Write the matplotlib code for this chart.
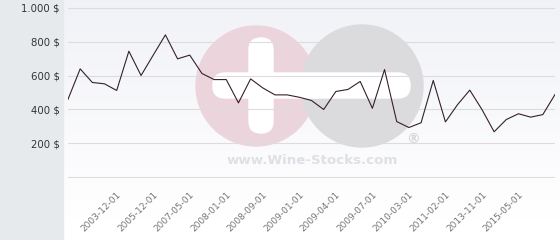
import matplotlib
matplotlib.use("Agg")
import matplotlib.pyplot as plt
from matplotlib.patches import Circle, FancyBboxPatch, Rectangle
import numpy as np

# price history, one point per listed date (categorical x axis)
prices = [460, 639, 559, 551, 512, 743, 600, 720, 839, 698,
          720, 612, 576, 576, 439, 580, 527, 486, 486, 472,
          453, 400, 506, 518, 565, 407, 635, 329, 294, 322,
          571, 327, 429, 514, 400, 269, 341, 375, 355, 370, 488]
tick_idx = [4, 7, 10, 13, 16, 19, 22, 25, 28, 31, 34, 37]
tick_labels = ["2003-12-01", "2005-12-01", "2007-05-01", "2008-01-01",
               "2008-09-01", "2009-01-01", "2009-04-01", "2009-07-01",
               "2010-03-01", "2011-02-01", "2013-11-01", "2015-05-01"]
y_ticks = [0, 200, 400, 600, 800, 1000]
y_labels = ["", "200 $", "400 $", "600 $", "800 $", "1.000 $"]

W, H = 560, 240
fig = plt.figure(figsize=(W / 100, H / 100), dpi=100)

# background layer in pixel coordinates: grey side panel, gradient, watermark
bg = fig.add_axes([0, 0, 1, 1], zorder=0)
bg.set_xlim(0, W)
bg.set_ylim(H, 0)
bg.axis("off")
grad = np.linspace(0, 1, 256)[:, None]
top = np.array([0.945, 0.949, 0.969])
rgb = top + (1 - top) * np.clip(grad * 1.1, 0, 1)[..., None]
bg.imshow(rgb.reshape(256, 1, 3), extent=[63, W, H, 0], aspect="auto", zorder=0)
bg.add_patch(Rectangle((0, 0), 63, H, color="#e7eaed", zorder=1))

bg.add_patch(Circle((256, 86), 60, color="#ecd4dc", zorder=2))
bg.add_patch(Circle((362, 86), 61, color="#dbdbdd", zorder=3))
bg.add_patch(FancyBboxPatch((249, 38), 24, 95, boxstyle="round,pad=0,rounding_size=12",
                            color="white", zorder=4))
bg.add_patch(FancyBboxPatch((213, 73), 197, 25, boxstyle="round,pad=0,rounding_size=12",
                            color="white", zorder=4))
bg.text(312, 161, "www.Wine-Stocks.com", ha="center", va="center", fontsize=9.6,
        fontweight="bold", color="#dfe0e3", zorder=5)
bg.text(413, 139, "®", ha="center", va="center", fontsize=10,
        fontweight="bold", color="#d4d4d6", zorder=5)

# main chart
ax = fig.add_axes([68 / W, (H - 178) / H, (555 - 68) / W, (178 - 7) / H], zorder=1)
ax.patch.set_alpha(0)
ax.plot(range(len(prices)), prices, color="#35202d", lw=0.8, zorder=3)
ax.set_xlim(0, len(prices) - 1)
ax.set_ylim(-3, 1003)
ax.set_yticks(y_ticks)
ax.set_yticklabels(y_labels)
ax.set_xticks(tick_idx)
ax.set_xticklabels(tick_labels, rotation=45, ha="right", va="top",
                   rotation_mode="anchor")
ax.tick_params(axis="y", length=0, pad=6, labelsize=7.3, labelcolor="#333333")
ax.tick_params(axis="x", length=0, pad=9, labelsize=6.5, labelcolor="#777777")
ax.grid(axis="y", color="#dcdcdc", lw=0.8)
ax.grid(axis="x", visible=False)
for s in ax.spines.values():
    s.set_visible(False)

fig.savefig("out.png", dpi=100)
